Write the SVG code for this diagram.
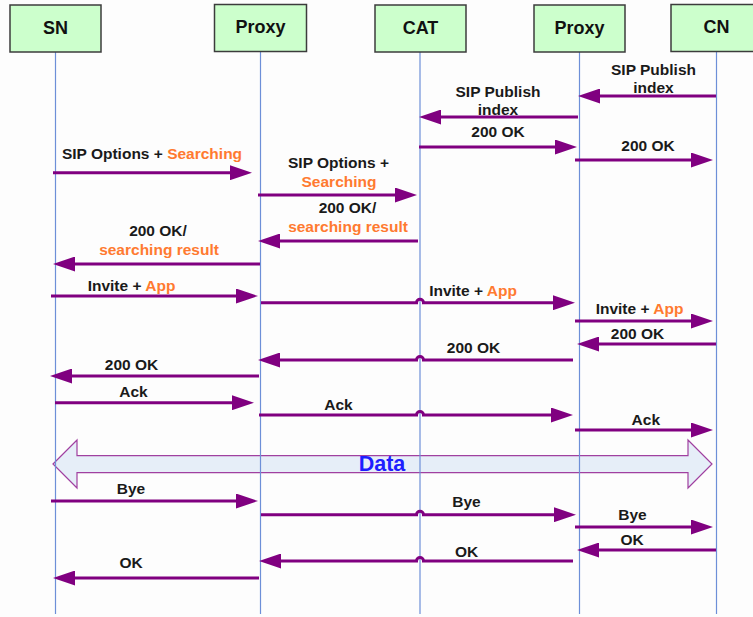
<svg xmlns="http://www.w3.org/2000/svg" width="753" height="617" viewBox="0 0 753 617">
<defs>
<marker id="ah" markerUnits="userSpaceOnUse" viewBox="0 0 22 15" markerWidth="22" markerHeight="15" refX="11" refY="7.5" orient="auto">
<path d="M0,0 L22,7.5 L0,15 z" fill="#800080"/>
</marker>
<style>
.box{fill:#CCFFCC;stroke:#3C3C3C;stroke-width:1.5}
.hd{font-family:"Liberation Sans",Arial,sans-serif;font-weight:bold;font-size:18px;fill:#111;text-anchor:middle}
.life{stroke:#6D8FD8;stroke-width:1.2;fill:none}
.msg{stroke:#800080;stroke-width:3;fill:none;marker-end:url(#ah)}
.lb{font-family:"Liberation Sans",Arial,sans-serif;font-weight:bold;font-size:15.5px;fill:#1a1a1a;text-anchor:middle}
.or{fill:#FF7A30}
</style>
</defs>
<rect x="0" y="0" width="753" height="617" fill="#FDFDFD"/>

<g id="data-flow">
<polygon points="53,464 77,440 77,455.7 688,455.7 688,440 712,464 688,488 688,472.7 77,472.7 77,488" fill="#E6EEF8" stroke="#A040A0" stroke-width="1.2"/>
<text x="382" y="471" font-family="Liberation Sans,Arial,sans-serif" font-weight="bold" font-size="21.5" fill="#1E1EFF" text-anchor="middle">Data</text>
</g>

<g id="node-sn">
<line class="life" x1="55.5" y1="52" x2="55.5" y2="614"/>
<rect class="box" x="10" y="5" width="91" height="47"/>
<text class="hd" x="55.5" y="34">SN</text>
</g>
<g id="node-proxy1">
<line class="life" x1="260.5" y1="51" x2="260.5" y2="614"/>
<rect class="box" x="214.5" y="4.5" width="92" height="47"/>
<text class="hd" x="260.5" y="33">Proxy</text>
</g>
<g id="node-cat">
<line class="life" x1="420" y1="52" x2="420" y2="614"/>
<rect class="box" x="375" y="5" width="91" height="47"/>
<text class="hd" x="420.5" y="34">CAT</text>
</g>
<g id="node-proxy2">
<line class="life" x1="579.5" y1="52" x2="579.5" y2="614"/>
<rect class="box" x="534" y="5" width="91" height="47"/>
<text class="hd" x="579.5" y="34">Proxy</text>
</g>
<g id="node-cn">
<line class="life" x1="716.5" y1="51" x2="716.5" y2="614"/>
<rect class="box" x="671" y="4.5" width="91" height="47"/>
<text class="hd" x="716.5" y="33">CN</text>
</g>

<g id="connectors">
<path class="msg" d="M716,96 H589"/>
<path class="msg" d="M578,117 H430"/>
<path class="msg" d="M419,147 H566"/>
<path class="msg" d="M575,160 H702"/>
<path class="msg" d="M53,172.7 H241"/>
<path class="msg" d="M258,195 H406"/>
<path class="msg" d="M418,241 H269"/>
<path class="msg" d="M260,264 H64"/>
<path class="msg" d="M51,296 H247"/>
<path class="msg" d="M261,302.7 H416.5 a3.5,3.5 0 0 1 7,0 H564"/>
<path class="msg" d="M575,321 H702"/>
<path class="msg" d="M716,344 H588"/>
<path class="msg" d="M573,360 H423.5 a3.5,3.5 0 0 0 -7,0 H269"/>
<path class="msg" d="M259,376 H61"/>
<path class="msg" d="M55,402.7 H243"/>
<path class="msg" d="M259,415 H416.5 a3.5,3.5 0 0 1 7,0 H562"/>
<path class="msg" d="M575,430 H702"/>
<path class="msg" d="M51,501 H247"/>
<path class="msg" d="M261,514.7 H416.5 a3.5,3.5 0 0 1 7,0 H565"/>
<path class="msg" d="M575,527 H702"/>
<path class="msg" d="M716,550 H588"/>
<path class="msg" d="M573,561 H423.5 a3.5,3.5 0 0 0 -7,0 H270"/>
<path class="msg" d="M259,578 H64"/>

<text class="lb" x="653.5" y="75">SIP Publish</text>
<text class="lb" x="653.5" y="93">index</text>
<text class="lb" x="498" y="96.5">SIP Publish</text>
<text class="lb" x="498" y="115">index</text>
<text class="lb" x="498" y="137">200 OK</text>
<text class="lb" x="648" y="150.5">200 OK</text>
<text class="lb" x="152" y="159.3">SIP Options + <tspan class="or">Searching</tspan></text>
<text class="lb" x="338.5" y="167.7">SIP Options +</text>
<text class="lb or" x="339" y="187">Searching</text>
<text class="lb" x="347.5" y="212.7">200 OK/</text>
<text class="lb or" x="348" y="231.7">searching result</text>
<text class="lb" x="158" y="236">200 OK/</text>
<text class="lb or" x="159" y="255">searching result</text>
<text class="lb" x="131.5" y="291">Invite + <tspan class="or">App</tspan></text>
<text class="lb" x="473" y="296">Invite + <tspan class="or">App</tspan></text>
<text class="lb" x="639.5" y="314.3">Invite + <tspan class="or">App</tspan></text>
<text class="lb" x="637.5" y="339">200 OK</text>
<text class="lb" x="473.5" y="353.3">200 OK</text>
<text class="lb" x="131.5" y="370">200 OK</text>
<text class="lb" x="133.5" y="396.7">Ack</text>
<text class="lb" x="338.5" y="410">Ack</text>
<text class="lb" x="645.8" y="425">Ack</text>
<text class="lb" x="131" y="494">Bye</text>
<text class="lb" x="466.5" y="507.3">Bye</text>
<text class="lb" x="632.5" y="520">Bye</text>
<text class="lb" x="632" y="545">OK</text>
<text class="lb" x="466.7" y="556.7">OK</text>
<text class="lb" x="131" y="568.3">OK</text>
</g>
</svg>
